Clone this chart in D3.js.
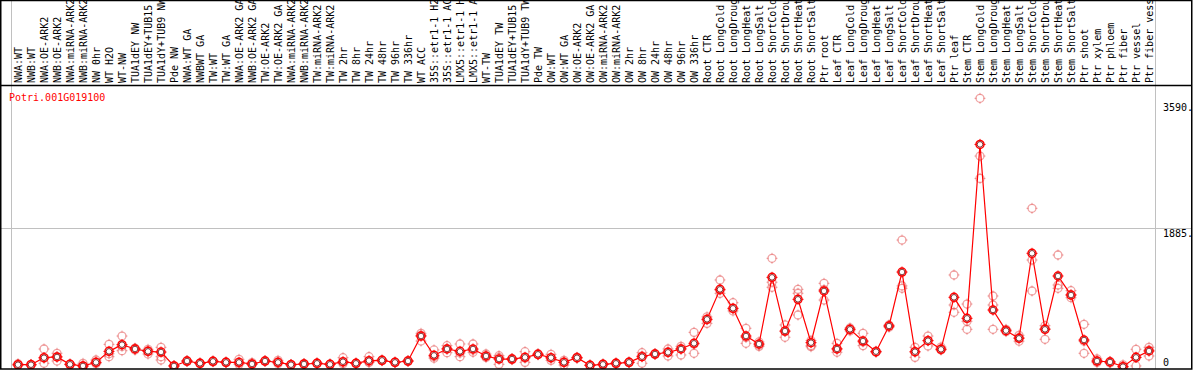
<!DOCTYPE html>
<html lang="en">
<head>
<meta charset="UTF-8">
<title>Potri.001G019100</title>
<style>
  body { margin: 0; background: #fff; }
  svg { display: block; font-family: 'DejaVu Sans Mono', monospace; }
  .col-label { font-size: 10px; fill: #000; }
  .axis-label { font-size: 10px; fill: #000; }
  .gene { font-size: 10px; fill: #ff0000; }
</style>
</head>
<body>
<div id="chart"></div>
<script src="https://cdn.jsdelivr.net/npm/d3@7/dist/d3.min.js"></script>
<script>
// sample columns, in plot order
const samples = [
  "NWA:WT", "NWB:WT", "NWA:OE-ARK2", "NWB:OE-ARK2", "NWA:miRNA-ARK2", "NWB:miRNA-ARK2",
  "NW 0hr", "WT H2O", "WT-NW", "TUA1dEY NW", "TUA1dEY+TUB15 NW", "TUA1dY+TUB9 NW", "Pde NW",
  "NWA:WT GA", "NWBWT GA", "TW:WT", "TW:WT GA", "NWA:OE-ARK2 GA", "NWB:OE-ARK2 GA",
  "TW:OE-ARK2", "TW:OE-ARK2 GA", "NWA:miRNA-ARK2", "NWB:miRNA-ARK2", "TW:miRNA-ARK2", "TW:miRNA-ARK2",
  "TW 2hr", "TW 8hr", "TW 24hr", "TW 48hr", "TW 96hr", "TW 336hr", "WT ACC",
  "35S::etr1-1 H2O", "35S::etr1-1 ACC", "LMX5::etr1-1 H2O", "LMX5::etr1-1 ACC",
  "WT-TW", "TUA1dEY TW", "TUA1dEY+TUB15 TW", "TUA1dY+TUB9 TW", "Pde TW",
  "OW:WT", "OW:WT GA", "OW:OE-ARK2", "OW:OE-ARK2 GA", "OW:miRNA-ARK2", "OW:miRNA-ARK2",
  "OW 2hr", "OW 8hr", "OW 24hr", "OW 48hr", "OW 96hr", "OW 336hr",
  "Root CTR", "Root LongCold", "Root LongDrought", "Root LongHeat", "Root LongSalt",
  "Root ShortCold", "Root ShortDrought", "Root ShortHeat", "Root ShortSalt", "Ptr root",
  "Leaf CTR", "Leaf LongCold", "Leaf LongDrought", "Leaf LongHeat", "Leaf LongSalt",
  "Leaf ShortCold", "Leaf ShortDrought", "Leaf ShortHeat", "Leaf ShortSalt", "Ptr leaf",
  "Stem CTR", "Stem LongCold", "Stem LongDrought", "Stem LongHeat", "Stem LongSalt",
  "Stem ShortCold", "Stem ShortDrought", "Stem ShortHeat", "Stem ShortSalt", "Ptr shoot", "Ptr xylem",
  "Ptr phloem", "Ptr fiber", "Ptr vessel", "Ptr fiber vessel"
];

// how many columns sit between grey separators
const groupSizes = [13, 28, 12, 10, 10, 11, 1, 1, 1, 1];

// mean expression per column
const means = [
  31, 31, 126, 136, 36, 14, 63, 212, 303, 244, 212, 203, 14,
  81, 50, 77, 63, 63, 41, 81, 63, 31, 41, 50, 36, 72, 50, 86, 90, 63, 81, 420,
  158, 244, 212, 244, 149, 108, 108, 131, 172,
  126, 63, 126, 23, 36, 50, 63, 140, 176, 199, 244, 321,
  647, 1053, 796, 420, 312, 1216, 488, 918, 330, 1031,
  244, 511, 352, 208, 556, 1288, 208, 357, 240, 945,
  660, 3019, 773, 493, 389, 1542, 511, 1234, 976, 366, 81,
  68, 5, 131, 217
];

// individual replicates per column
const replicates = [
  [45, 25, 28], [30, 28, 35], [244, 50, 120], [186, 81, 140], [36, 30, 40], [50, 10, 14],
  [95, 45, 60], [307, 140, 180], [420, 221, 280], [250, 230, 255], [176, 240, 215], [267, 140, 95], [14, 10, 20],
  [85, 75, 80], [50, 45, 55], [80, 70, 78], [63, 60, 68], [104, 36, 55], [60, 35, 40],
  [81, 78, 85], [90, 45, 60], [31, 28, 35], [41, 38, 45], [50, 48, 55], [36, 33, 40],
  [126, 45, 60], [50, 48, 52], [140, 60, 70], [90, 85, 95], [63, 60, 66], [81, 76, 86], [457, 352, 430],
  [231, 140, 120], [289, 194, 250], [312, 140, 190], [312, 200, 230],
  [176, 140, 130], [153, 36, 130], [108, 100, 115], [208, 63, 120], [172, 165, 180],
  [172, 90, 120], [63, 27, 90], [126, 118, 132], [23, 20, 28], [36, 32, 40], [50, 46, 55],
  [63, 58, 68], [194, 50, 150], [176, 170, 182], [244, 149, 205], [280, 163, 250], [470, 186, 310],
  [592, 640, 680], [1180, 999, 1040], [872, 760, 790], [525, 321, 400], [340, 280, 300],
  [1474, 1081, 1150], [570, 403, 480], [1053, 1000, 705], [275, 290, 360], [1135, 908, 1050],
  [321, 200, 250], [530, 490, 511], [457, 290, 340], [208, 200, 215], [556, 540, 570],
  [1722, 1067, 1100], [267, 131, 200], [420, 285, 360], [270, 230, 245], [1248, 841, 742],
  [854, 511, 620], [3644, 2861, 2558], [963, 511, 841], [511, 480, 500], [430, 350, 400],
  [2152, 1451, 1031], [560, 376, 520], [1519, 1112, 1067], [1035, 940, 980], [579, 186, 350], [110, 60, 80],
  [68, 55, 75], [5, 30, 0], [240, 14, 130], [267, 149, 230]
];

const axisTicks = [0, 1885, 3590];
const gridTicks = [1885];
const geneId = "Potri.001G019100";

const width = 1194;
const height = 370;
const headerBottom = 85.5;
const plotBottom = 369;

const svg = d3.select("#chart")
  .append("svg")
  .attr("width", width)
  .attr("height", height);

const x = d3.scaleBand()
  .domain(d3.range(samples.length))
  .range([11.5, 1155.5]);

const y = d3.scaleLinear()
  .domain([0, 3590])
  .range([367, 102.3]);

const cx = i => x(i) + x.bandwidth() / 2;

const defs = svg.append("defs");
defs.append("clipPath").attr("id", "header-clip")
  .append("rect").attr("x", 0).attr("y", 1).attr("width", 1192).attr("height", headerBottom - 1);
defs.append("clipPath").attr("id", "plot-clip")
  .append("rect").attr("x", 1).attr("y", headerBottom).attr("width", 1191).attr("height", plotBottom - headerBottom);

// horizontal grid
svg.selectAll(".grid")
  .data(gridTicks)
  .enter().append("line")
  .attr("class", "grid")
  .attr("x1", 1).attr("x2", 1192)
  .attr("y1", d => Math.round(y(d)) + 0.5)
  .attr("y2", d => Math.round(y(d)) + 0.5)
  .attr("stroke", "#c0c0c0");

// group separators
const bounds = [0].concat(d3.cumsum(groupSizes));
svg.selectAll(".sep")
  .data(bounds)
  .enter().append("line")
  .attr("class", "sep")
  .attr("x1", k => k < samples.length ? x(k) : x.range()[1])
  .attr("x2", k => k < samples.length ? x(k) : x.range()[1])
  .attr("y1", 0).attr("y2", plotBottom)
  .attr("stroke", "#c0c0c0");

// marker: circle plus four short ticks
function marker(g, r, color, width) {
  g.append("circle")
    .attr("r", r)
    .attr("fill", "none")
    .attr("stroke", color)
    .attr("stroke-width", width);
  [[0, -1], [0, 1], [-1, 0], [1, 0]].forEach(([dx, dy]) => {
    g.append("line")
      .attr("x1", dx * (r - 0.5)).attr("y1", dy * (r - 0.5))
      .attr("x2", dx * (r + 1.5)).attr("y2", dy * (r + 1.5))
      .attr("stroke", color)
      .attr("stroke-width", 1);
  });
}

const plot = svg.append("g").attr("clip-path", "url(#plot-clip)");

// replicates
const repPts = [];
replicates.forEach((vals, i) => vals.forEach(v => repPts.push({ i, v })));
plot.selectAll(".rep")
  .data(repPts)
  .enter().append("g")
  .attr("class", "rep")
  .attr("transform", d => `translate(${cx(d.i)},${y(d.v)})`)
  .each(function () { marker(d3.select(this), 4, "rgba(225,70,70,0.5)", 1.3); });

// mean line
plot.append("path")
  .datum(means)
  .attr("fill", "none")
  .attr("stroke", "#ff0000")
  .attr("stroke-width", 1.2)
  .attr("d", d3.line().x((d, i) => cx(i)).y(d => y(d)));

// means
const meanG = plot.selectAll(".mean")
  .data(means)
  .enter().append("g")
  .attr("class", "mean")
  .attr("transform", (d, i) => `translate(${cx(i)},${y(d)})`);
meanG.append("circle").attr("r", 4).attr("fill", "#fff");
meanG.each(function () { marker(d3.select(this), 4, "#ff0000", 1.5); });
meanG.append("circle")
  .attr("r", 2.8)
  .attr("fill", "none")
  .attr("stroke", "#600")
  .attr("stroke-width", 0.8);

// column labels
svg.append("g")
  .attr("clip-path", "url(#header-clip)")
  .selectAll(".col-label")
  .data(samples)
  .enter().append("text")
  .attr("class", "col-label")
  .attr("transform", (d, i) => `translate(${cx(i) + 4},83) rotate(-90)`)
  .text(d => d);

// gene id
svg.append("text")
  .attr("class", "gene")
  .attr("x", 9)
  .attr("y", 101)
  .text(geneId);

// right-hand value labels
svg.selectAll(".axis-label")
  .data(axisTicks)
  .enter().append("text")
  .attr("class", "axis-label")
  .attr("x", 1163)
  .attr("y", d => d === 0 ? y(d) - 1.5 : y(d) + 8.5)
  .text(d => d === 0 ? "0" : d + ".");

// frame
svg.append("line")
  .attr("x1", 1).attr("x2", 1192)
  .attr("y1", headerBottom).attr("y2", headerBottom)
  .attr("stroke", "#000").attr("stroke-width", 1.5);
svg.append("rect")
  .attr("x", 0.75).attr("y", 0.5)
  .attr("width", 1191).attr("height", plotBottom - 0.5)
  .attr("fill", "none")
  .attr("stroke", "#000")
  .attr("stroke-width", 1.5);
</script>
</body>
</html>
